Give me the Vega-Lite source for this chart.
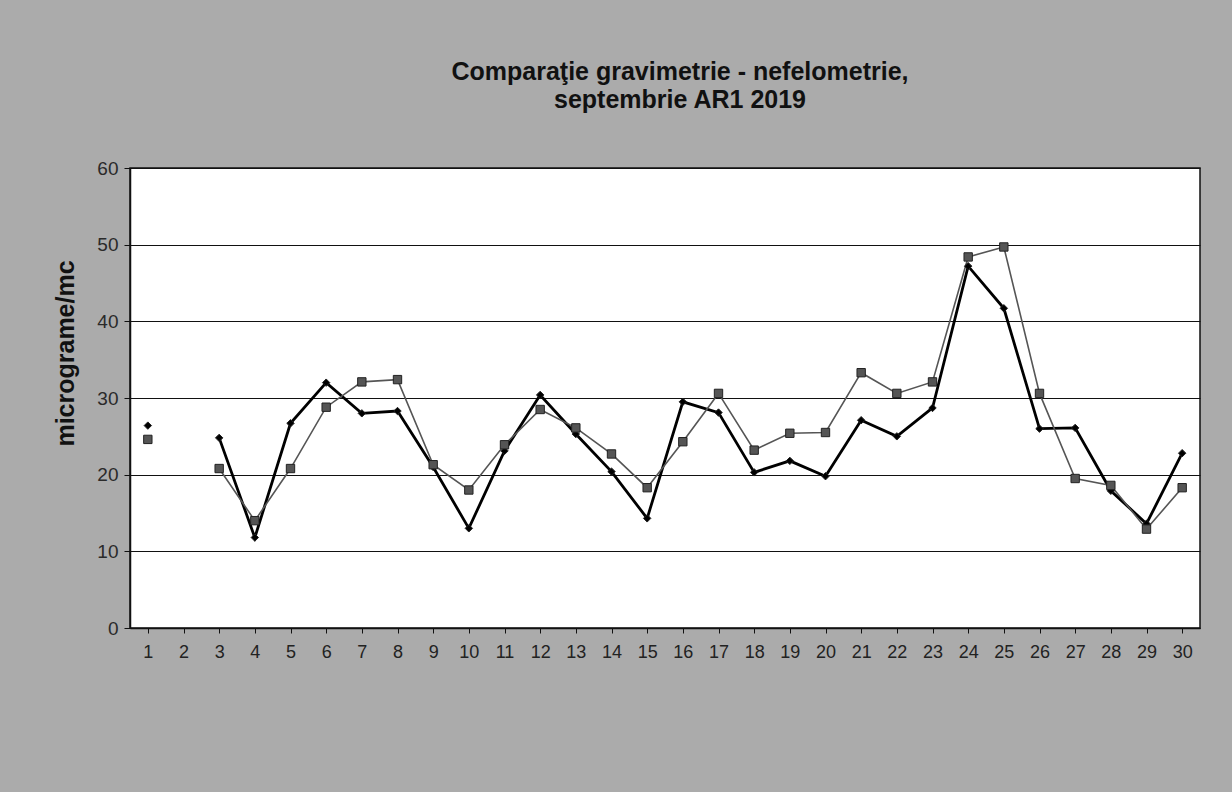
{
  "$schema": "https://vega.github.io/schema/vega-lite/v6.json",
  "autosize": {"type": "none"},
  "width": 1070,
  "height": 460,
  "padding": {"left": 130, "top": 168, "right": 32, "bottom": 164},
  "background": "#ababab",
  "title": {
    "text": ["Comparaţie gravimetrie - nefelometrie,", "septembrie AR1 2019"],
    "font": "Liberation Sans",
    "fontSize": 25,
    "fontWeight": "bold",
    "color": "#111111",
    "anchor": "middle",
    "frame": "group",
    "offset": 46,
    "dx": 15,
    "lineHeight": 28
  },
  "config": {
    "view": {"fill": "white", "stroke": "#111111", "strokeWidth": 1.5},
    "font": "Liberation Sans"
  },
  "data": {
    "values": [
      {"day": 1, "series": "gravimetrie", "value": 26.4},
      {"day": 2, "series": "gravimetrie", "value": null},
      {"day": 3, "series": "gravimetrie", "value": 24.8},
      {"day": 4, "series": "gravimetrie", "value": 11.8},
      {"day": 5, "series": "gravimetrie", "value": 26.7},
      {"day": 6, "series": "gravimetrie", "value": 32.0},
      {"day": 7, "series": "gravimetrie", "value": 28.0},
      {"day": 8, "series": "gravimetrie", "value": 28.3},
      {"day": 9, "series": "gravimetrie", "value": 21.0},
      {"day": 10, "series": "gravimetrie", "value": 13.0},
      {"day": 11, "series": "gravimetrie", "value": 23.1},
      {"day": 12, "series": "gravimetrie", "value": 30.4},
      {"day": 13, "series": "gravimetrie", "value": 25.3},
      {"day": 14, "series": "gravimetrie", "value": 20.4},
      {"day": 15, "series": "gravimetrie", "value": 14.3},
      {"day": 16, "series": "gravimetrie", "value": 29.5},
      {"day": 17, "series": "gravimetrie", "value": 28.1},
      {"day": 18, "series": "gravimetrie", "value": 20.3},
      {"day": 19, "series": "gravimetrie", "value": 21.8},
      {"day": 20, "series": "gravimetrie", "value": 19.8},
      {"day": 21, "series": "gravimetrie", "value": 27.1},
      {"day": 22, "series": "gravimetrie", "value": 25.0},
      {"day": 23, "series": "gravimetrie", "value": 28.7},
      {"day": 24, "series": "gravimetrie", "value": 47.2},
      {"day": 25, "series": "gravimetrie", "value": 41.7},
      {"day": 26, "series": "gravimetrie", "value": 26.0},
      {"day": 27, "series": "gravimetrie", "value": 26.1},
      {"day": 28, "series": "gravimetrie", "value": 17.9},
      {"day": 29, "series": "gravimetrie", "value": 13.6},
      {"day": 30, "series": "gravimetrie", "value": 22.8},
      {"day": 1, "series": "nefelometrie", "value": 24.6},
      {"day": 2, "series": "nefelometrie", "value": null},
      {"day": 3, "series": "nefelometrie", "value": 20.8},
      {"day": 4, "series": "nefelometrie", "value": 14.0},
      {"day": 5, "series": "nefelometrie", "value": 20.8},
      {"day": 6, "series": "nefelometrie", "value": 28.8},
      {"day": 7, "series": "nefelometrie", "value": 32.1},
      {"day": 8, "series": "nefelometrie", "value": 32.4},
      {"day": 9, "series": "nefelometrie", "value": 21.3},
      {"day": 10, "series": "nefelometrie", "value": 18.0},
      {"day": 11, "series": "nefelometrie", "value": 23.9},
      {"day": 12, "series": "nefelometrie", "value": 28.5},
      {"day": 13, "series": "nefelometrie", "value": 26.1},
      {"day": 14, "series": "nefelometrie", "value": 22.7},
      {"day": 15, "series": "nefelometrie", "value": 18.3},
      {"day": 16, "series": "nefelometrie", "value": 24.3},
      {"day": 17, "series": "nefelometrie", "value": 30.6},
      {"day": 18, "series": "nefelometrie", "value": 23.2},
      {"day": 19, "series": "nefelometrie", "value": 25.4},
      {"day": 20, "series": "nefelometrie", "value": 25.5},
      {"day": 21, "series": "nefelometrie", "value": 33.3},
      {"day": 22, "series": "nefelometrie", "value": 30.6},
      {"day": 23, "series": "nefelometrie", "value": 32.1},
      {"day": 24, "series": "nefelometrie", "value": 48.4},
      {"day": 25, "series": "nefelometrie", "value": 49.7},
      {"day": 26, "series": "nefelometrie", "value": 30.6},
      {"day": 27, "series": "nefelometrie", "value": 19.5},
      {"day": 28, "series": "nefelometrie", "value": 18.6},
      {"day": 29, "series": "nefelometrie", "value": 12.9},
      {"day": 30, "series": "nefelometrie", "value": 18.3}
    ]
  },
  "encoding": {
    "x": {
      "field": "day",
      "type": "ordinal",
      "scale": {"type": "point", "padding": 0.5, "domain": [1,2,3,4,5,6,7,8,9,10,11,12,13,14,15,16,17,18,19,20,21,22,23,24,25,26,27,28,29,30]},
      "axis": {
        "title": null,
        "labelAngle": 0,
        "labelFontSize": 18,
        "labelColor": "#222222",
        "labelPadding": 10,
        "domainColor": "#111111",
        "domainWidth": 1.5,
        "tickColor": "#111111",
        "tickSize": 5,
        "grid": false
      }
    },
    "y": {
      "field": "value",
      "type": "quantitative",
      "scale": {"domain": [0, 60], "nice": false},
      "axis": {
        "title": "micrograme/mc",
        "titleFontSize": 25,
        "titleFontWeight": "bold",
        "titleColor": "#111111",
        "titlePadding": 18,
        "titleY": 185,
        "values": [0, 10, 20, 30, 40, 50, 60],
        "labelFontSize": 19,
        "labelColor": "#2a2a2a",
        "labelPadding": 6,
        "domainColor": "#111111",
        "domainWidth": 1.5,
        "tickColor": "#111111",
        "tickSize": 6,
        "grid": true,
        "gridColor": "#111111",
        "gridWidth": 1
      }
    },
    "color": {
      "field": "series",
      "type": "nominal",
      "scale": {"domain": ["gravimetrie", "nefelometrie"], "range": ["#000000", "#555555"]},
      "legend": null
    }
  },
  "layer": [
    {
      "mark": {"type": "line", "invalid": "break-paths-filter-domains"},
      "encoding": {
        "strokeWidth": {
          "field": "series",
          "type": "nominal",
          "scale": {"domain": ["gravimetrie", "nefelometrie"], "range": [2.8, 1.6]},
          "legend": null
        }
      }
    },
    {
      "mark": {"type": "point", "filled": true, "opacity": 1, "stroke": "#222222", "strokeWidth": 1},
      "encoding": {
        "shape": {
          "field": "series",
          "type": "nominal",
          "scale": {"domain": ["gravimetrie", "nefelometrie"], "range": ["diamond", "square"]},
          "legend": null
        },
        "size": {
          "field": "series",
          "type": "nominal",
          "scale": {"domain": ["gravimetrie", "nefelometrie"], "range": [55, 70]},
          "legend": null
        }
      }
    }
  ]
}
